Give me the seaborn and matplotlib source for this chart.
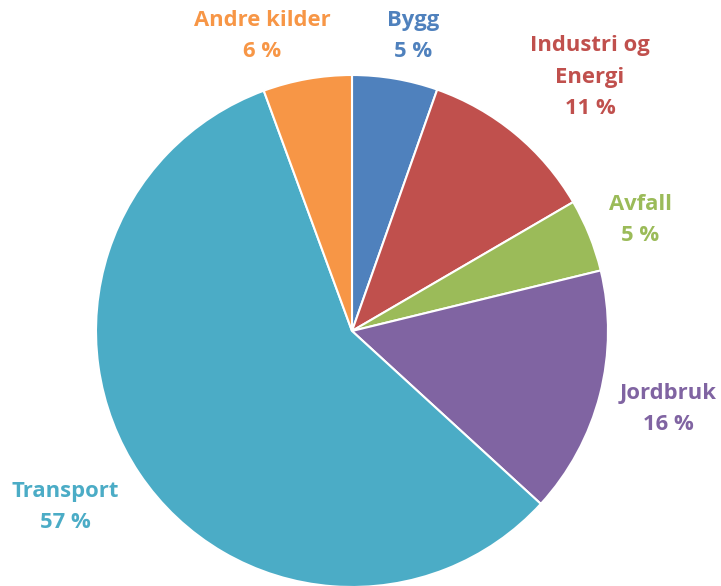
import numpy as np
import seaborn as sns
import matplotlib.pyplot as plt

categories = ['Bygg', 'Industri og\nEnergi', 'Avfall', 'Jordbruk', 'Transport', 'Andre kilder']
shares = [5.4, 11.2, 4.6, 15.6, 57.6, 5.6]
pct_labels = ['5 %', '11 %', '5 %', '16 %', '57 %', '6 %']

colors = ['#4F81BD', '#C0504D', '#9BBB59', '#8064A2', '#4BACC6', '#F79646']
# label anchor points in pixels (x, y from top)
label_pos = [(413, 36), (590, 77), (640, 220), (668, 409), (65, 507), (262, 36)]

sns.set_theme(style="white")
plt.rcParams['font.family'] = ['Open Sans', 'DejaVu Sans']

W, H = 721, 586
fig = plt.figure(figsize=(W / 100, H / 100), dpi=100)
ax = fig.add_axes([0, 0, 1, 1])

ax.pie(shares, colors=colors, startangle=90, counterclock=False,
       center=(352, H - 331), radius=256,
       wedgeprops=dict(edgecolor='white', linewidth=1.5))

ax.set_xlim(0, W)
ax.set_ylim(0, H)
ax.set_aspect('equal')
ax.axis('off')

for cat, pct, col, (px, py) in zip(categories, pct_labels, colors, label_pos):
    ax.text(px, H - py, cat + '\n' + pct, color=col, fontsize=15.8,
            fontweight='bold', ha='center', va='center', linespacing=1.65)

fig.savefig('out.png', dpi=100)
